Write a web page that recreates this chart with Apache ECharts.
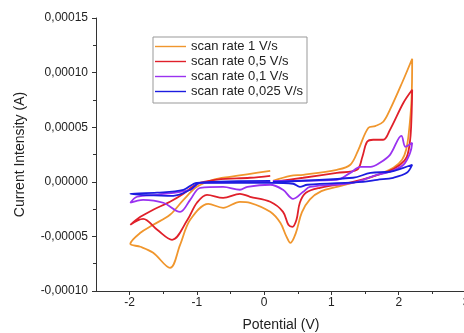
<!DOCTYPE html>
<html>
<head>
<meta charset="utf-8">
<script src="https://cdn.jsdelivr.net/npm/echarts@6/dist/echarts.min.js"></script>
<style>
  html, body { margin: 0; padding: 0; background: #fff; }
  #cv { width: 464px; height: 333px; }
</style>
</head>
<body>
<div id="cv"></div>
<script>
// potential (V), current (A), in scan order
var rate1 = [
  [0.13, 0.09e-5], [0.39, 0.55e-5], [0.58, 0.64e-5], [1.08, 1.10e-5], [1.28, 1.56e-5],
  [1.40, 2.93e-5], [1.55, 4.95e-5], [1.65, 5.10e-5], [1.77, 5.50e-5], [1.87, 6.60e-5],
  [2.05, 9.07e-5], [2.20, 11.27e-5], [2.19, 7.51e-5], [2.15, 4.49e-5], [2.11, 2.93e-5],
  [2.05, 2.02e-5], [1.92, 1.28e-5], [1.72, 0.73e-5], [1.47, 0.18e-5], [1.08, -0.46e-5],
  [0.85, -0.85e-5], [0.68, -1.60e-5], [0.56, -2.80e-5], [0.47, -4.70e-5], [0.39, -5.59e-5],
  [0.33, -5.00e-5], [0.24, -3.76e-5], [0.09, -2.75e-5], [-0.21, -1.92e-5], [-0.36, -1.83e-5],
  [-0.61, -2.38e-5], [-0.83, -2.02e-5], [-1.10, -3.48e-5], [-1.25, -5.77e-5], [-1.40, -7.88e-5],
  [-1.65, -6.50e-5], [-1.84, -5.95e-5], [-1.99, -5.68e-5], [-1.84, -4.67e-5], [-1.65, -3.94e-5],
  [-1.40, -3.02e-5], [-1.20, -1.65e-5], [-1.00, -0.46e-5], [-0.76, 0.18e-5], [-0.51, 0.46e-5],
  [0.09, 1.01e-5]
];
var rate05 = [
  [0.13, 0.0], [0.58, 0.37e-5], [1.08, 0.82e-5], [1.38, 1.10e-5], [1.46, 2.30e-5],
  [1.53, 3.66e-5], [1.62, 3.85e-5], [1.77, 3.85e-5], [1.87, 4.76e-5], [2.07, 7.24e-5],
  [2.20, 8.43e-5], [2.19, 5.95e-5], [2.17, 3.85e-5], [2.12, 2.29e-5], [2.02, 1.56e-5],
  [1.83, 0.92e-5], [1.32, 0.0], [0.83, -0.55e-5], [0.62, -1.01e-5], [0.53, -1.92e-5],
  [0.48, -3.48e-5], [0.42, -4.12e-5], [0.36, -3.94e-5], [0.28, -2.75e-5], [0.09, -1.83e-5],
  [-0.21, -1.37e-5], [-0.36, -1.10e-5], [-0.61, -1.47e-5], [-0.85, -1.19e-5], [-1.00, -1.92e-5],
  [-1.14, -3.48e-5], [-1.37, -5.31e-5], [-1.59, -4.40e-5], [-1.80, -3.39e-5], [-1.99, -3.94e-5],
  [-1.84, -3.21e-5], [-1.65, -2.56e-5], [-1.40, -1.83e-5], [-1.20, -1.10e-5], [-1.00, -0.20e-5],
  [-0.70, 0.20e-5], [-0.21, 0.37e-5], [0.09, 0.55e-5]
];
var rate01 = [
  [0.13, 0.09e-5], [1.08, 0.18e-5], [1.28, 0.82e-5], [1.43, 1.37e-5], [1.58, 1.37e-5],
  [1.72, 1.74e-5], [1.87, 2.47e-5], [2.04, 4.21e-5], [2.10, 3.21e-5], [2.20, 3.57e-5],
  [2.17, 2.66e-5], [2.07, 1.56e-5], [1.87, 0.92e-5], [1.68, 0.64e-5], [1.32, -0.09e-5],
  [0.68, -0.46e-5], [0.58, -0.92e-5], [0.43, -1.56e-5], [0.28, -0.73e-5], [0.09, -0.27e-5],
  [-0.25, -0.46e-5], [-0.36, -0.73e-5], [-0.61, -0.46e-5], [-0.95, -0.55e-5], [-1.10, -1.65e-5],
  [-1.25, -2.75e-5], [-1.50, -1.92e-5], [-1.80, -1.65e-5], [-1.99, -1.92e-5], [-1.89, -1.37e-5],
  [-1.59, -1.19e-5], [-1.10, -0.73e-5], [-0.95, -0.09e-5], [0.09, 0.0]
];
var rate0025 = [
  [0.13, 0.0], [1.32, 0.37e-5], [1.58, 0.82e-5], [1.87, 0.92e-5], [2.07, 1.28e-5],
  [2.20, 1.56e-5], [2.12, 0.82e-5], [1.92, 0.37e-5], [1.68, 0.18e-5], [1.47, 0.0],
  [0.64, -0.27e-5], [0.53, -0.46e-5], [0.43, -0.18e-5], [0.09, -0.09e-5], [-0.95, -0.09e-5],
  [-1.10, -0.73e-5], [-1.35, -1.28e-5], [-1.99, -1.10e-5], [-1.59, -1.00e-5], [-1.20, -0.73e-5],
  [-1.00, -0.09e-5], [0.09, 0.09e-5]
];

var seriesNames = ['scan rate 1 V/s', 'scan rate 0,5 V/s', 'scan rate 0,1 V/s', 'scan rate 0,025 V/s'];
var seriesColors = ['#f0962d', '#e0202a', '#9a32f0', '#1c1ce0'];
var xMajorTicks = [-2, -1, 0, 1, 2, 3];
var xMinorTicks = [-1.5, -0.5, 0.5, 1.5, 2.5];

var chart = echarts.init(document.getElementById('cv'));

var font = 'Liberation Sans, Arial, sans-serif';

var series = [rate1, rate05, rate01, rate0025].map(function (d, i) {
  return {
    name: seriesNames[i],
    type: 'line',
    xAxisIndex: 0,
    data: d,
    smooth: 0.35,
    showSymbol: false,
    symbol: 'none',
    lineStyle: { color: seriesColors[i], width: 1.8 },
    itemStyle: { color: seriesColors[i] },
    animation: false
  };
});

var option = {
  animation: false,
  grid: { left: 96, right: -2, top: 18, bottom: 42, outerBoundsMode: 'none' },
  legend: {
    orient: 'vertical',
    left: 153,
    top: 37,
    padding: [3, 4, 5, 2],
    itemWidth: 31,
    itemHeight: 12,
    itemGap: 2,
    icon: 'path://M0,0L40,0L40,1.8L0,1.8Z',
    symbolKeepAspect: true,
    borderColor: '#999',
    borderWidth: 1,
    backgroundColor: '#fff',
    textStyle: { fontFamily: font, fontSize: 13, color: '#222' },
    data: seriesNames
  },
  xAxis: [
    {
      type: 'value',
      min: -2.5,
      max: 3,
      name: 'Potential (V)',
      nameLocation: 'middle',
      nameGap: 27,
      nameTextStyle: { fontFamily: font, fontSize: 14, color: '#222' },
      axisLine: { onZero: false, lineStyle: { color: '#333', width: 1 } },
      axisTick: { show: true, length: 4, customValues: xMajorTicks, lineStyle: { color: '#333' } },
      axisLabel: {
        customValues: xMajorTicks,
        fontFamily: font, fontSize: 12, color: '#222', margin: 6
      },
      splitLine: { show: false }
    },
    {
      type: 'value',
      min: -2.5,
      max: 3,
      position: 'bottom',
      axisLine: { show: false, onZero: false },
      axisTick: { show: true, length: 3, customValues: xMinorTicks, lineStyle: { color: '#333' } },
      axisLabel: { show: false },
      splitLine: { show: false }
    }
  ],
  yAxis: {
    type: 'value',
    min: -0.0001,
    max: 0.00015,
    interval: 0.00005,
    name: 'Current Intensity (A)',
    nameLocation: 'middle',
    nameGap: 69,
    nameTextStyle: { fontFamily: font, fontSize: 14, color: '#222' },
    axisLine: { show: true, onZero: false, lineStyle: { color: '#333', width: 1 } },
    axisTick: { show: true, length: 4, lineStyle: { color: '#333' } },
    minorTick: { show: true, splitNumber: 2, length: 3, lineStyle: { color: '#333' } },
    axisLabel: {
      fontFamily: font, fontSize: 12, color: '#222', margin: 8,
      formatter: function (v) { return v.toFixed(5).replace('.', ','); }
    },
    splitLine: { show: false }
  },
  series: series
};

chart.setOption(option);
</script>
</body>
</html>
